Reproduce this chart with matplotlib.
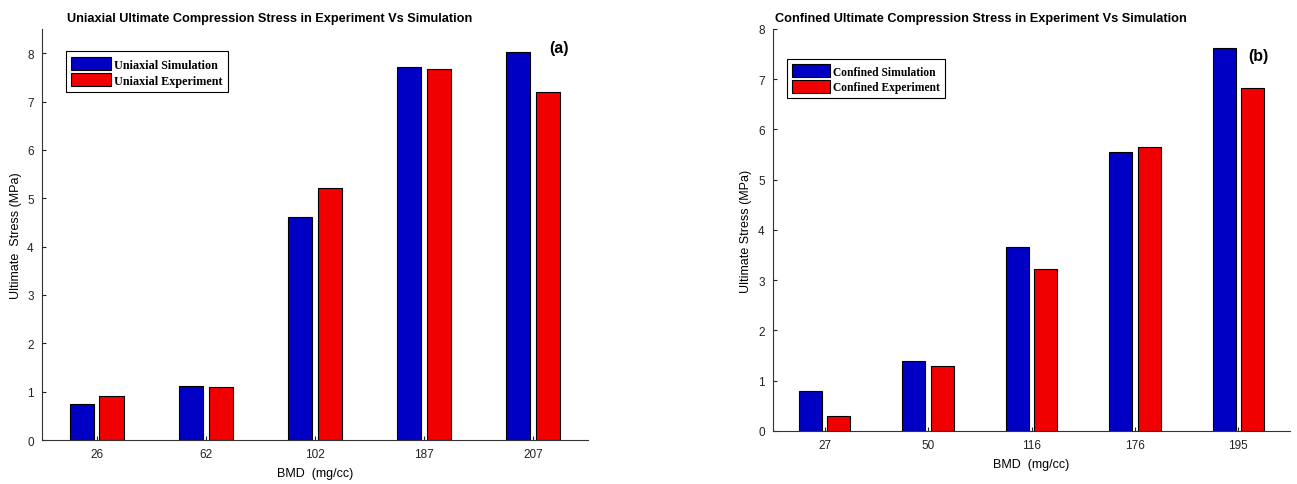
import numpy as np
import matplotlib
matplotlib.use("Agg")
import matplotlib.pyplot as plt

# data
uni_bmd = ["26", "62", "102", "187", "207"]
uni_sim = [0.75, 1.11, 4.61, 7.71, 8.02]
uni_exp = [0.90, 1.09, 5.21, 7.68, 7.19]

con_bmd = ["27", "50", "116", "176", "195"]
con_sim = [0.80, 1.40, 3.66, 5.55, 7.63]
con_exp = [0.30, 1.30, 3.22, 5.66, 6.83]

BLUE = "#0000c4"
RED = "#f00000"

plt.rcParams["font.family"] = ["Liberation Sans", "DejaVu Sans"]

fig = plt.figure(figsize=(12.97, 4.85), dpi=100)
ax1 = fig.add_axes([0.0324, 0.0907, 0.4206, 0.8473])
ax2 = fig.add_axes([0.596, 0.1093, 0.3986, 0.8289])


def draw(ax, cats, sim, exp, title, title_x, lab_sim, lab_exp, ymax, ylabel, tag,
         leg_anchor, leg_size, tag_pos):
    x = np.arange(1, len(cats) + 1)
    w = 0.222
    off = 0.137
    ax.bar(x - off, sim, w, color=BLUE, edgecolor="black", linewidth=0.8, label=lab_sim)
    ax.bar(x + off, exp, w, color=RED, edgecolor="black", linewidth=0.8, label=lab_exp)
    ax.set_xlim(0.5, len(cats) + 0.5)
    ax.set_ylim(0, ymax)
    ax.set_yticks(range(0, 9))
    ax.set_xticks(x)
    ax.set_xticklabels(cats)
    ax.tick_params(direction="in", length=3, width=0.8, labelsize=8.5, colors="#222222", pad=6)
    for s in ["top", "right"]:
        ax.spines[s].set_visible(False)
    for s in ["left", "bottom"]:
        ax.spines[s].set_color("#333333")
        ax.spines[s].set_linewidth(0.8)
    ax.set_title(title, fontsize=9.2, fontweight="bold", pad=6, x=title_x)
    ax.set_xlabel("BMD  (mg/cc)", fontsize=9, labelpad=5)
    ax.set_ylabel(ylabel, fontsize=9)
    leg = ax.legend(loc="upper left", bbox_to_anchor=leg_anchor, borderaxespad=0, fancybox=False,
                    edgecolor="black", framealpha=1, handlelength=3.3, handleheight=1.35,
                    handletextpad=0.25, borderpad=0.45, labelspacing=0.2,
                    prop={"family": ["Liberation Serif"], "weight": "bold", "size": leg_size})
    leg.get_frame().set_linewidth(0.8)
    ax.text(tag_pos[0], tag_pos[1], tag, transform=ax.transAxes, fontsize=11.5,
            fontweight="bold", ha="center", va="center")


draw(ax1, uni_bmd, uni_sim, uni_exp,
     "Uniaxial Ultimate Compression Stress in Experiment Vs Simulation", 0.418,
     "Uniaxial Simulation", "Uniaxial Experiment", 8.5,
     "Ultimate  Stress (MPa)", "(a)", (0.044, 0.946), 8.7, (0.947, 0.955))
draw(ax2, con_bmd, con_sim, con_exp,
     "Confined Ultimate Compression Stress in Experiment Vs Simulation", 0.402,
     "Confined Simulation", "Confined Experiment", 8,
     "Ultimate Stress (MPa)", "(b)", (0.027, 0.925), 8.3, (0.938, 0.935))

fig.savefig("out.png", dpi=100)
